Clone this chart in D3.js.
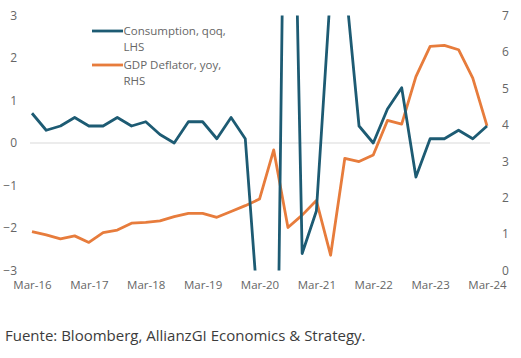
<!DOCTYPE html>
<html>
<head>
<meta charset="utf-8">
<script src="https://cdn.jsdelivr.net/npm/d3@7"></script>
<style>
  html, body { margin: 0; padding: 0; background: #ffffff; }
  svg { display: block; }
</style>
</head>
<body>
<script>
// ---------------- DATA ----------------
const quarters = [
  "Mar-16","Jun-16","Sep-16","Dec-16",
  "Mar-17","Jun-17","Sep-17","Dec-17",
  "Mar-18","Jun-18","Sep-18","Dec-18",
  "Mar-19","Jun-19","Sep-19","Dec-19",
  "Mar-20","Jun-20","Sep-20","Dec-20",
  "Mar-21","Jun-21","Sep-21","Dec-21",
  "Mar-22","Jun-22","Sep-22","Dec-22",
  "Mar-23","Jun-23","Sep-23","Dec-23",
  "Mar-24"
];
// Consumption, qoq (%), left axis
const consumption = [
  0.7, 0.3, 0.4, 0.6,
  0.4, 0.4, 0.6, 0.4,
  0.5, 0.2, 0.0, 0.5,
  0.5, 0.1, 0.6, 0.1,
  -4.4, -13.0, 14.0, -2.6,
  -1.6, 3.6, 3.9, 0.4,
  0.0, 0.8, 1.3, -0.8,
  0.1, 0.1, 0.3, 0.1,
  0.4
];
// GDP Deflator, yoy (%), right axis
const deflator = [
  1.07, 0.98, 0.87, 0.95,
  0.77, 1.04, 1.11, 1.30,
  1.32, 1.36, 1.48, 1.57,
  1.57, 1.46, 1.62, 1.78,
  1.96, 3.31, 1.18, 1.52,
  1.92, 0.42, 3.08, 2.99,
  3.17, 4.12, 4.02, 5.32,
  6.15, 6.18, 6.06, 5.28,
  3.97
];
const xTickLabels = ["Mar-16","Mar-17","Mar-18","Mar-19","Mar-20","Mar-21","Mar-22","Mar-23","Mar-24"];
const leftTicks = [-3, -2, -1, 0, 1, 2, 3];
const rightTicks = [0, 1, 2, 3, 4, 5, 6, 7];
const seriesNames = [["Consumption, qoq,", "LHS"], ["GDP Deflator, yoy,", "RHS"]];
const sourceText = "Fuente: Bloomberg, AllianzGI Economics & Strategy.";

// ---------------- LAYOUT ----------------
const W = 521, H = 358;
const plotTop = 15.5, plotBottom = 270.5;
const colBlue = "#1d5b73", colOrange = "#e77c3c";
const tickColor = "#666666";
const fontFam = "'Open Sans', 'DejaVu Sans', sans-serif";

const svg = d3.select("body").append("svg")
  .attr("width", W).attr("height", H)
  .attr("font-family", fontFam);

const x = d3.scalePoint().domain(quarters).range([32, 487]);
const yL = d3.scaleLinear().domain([-3, 3]).range([plotBottom, plotTop]);
const yR = d3.scaleLinear().domain([0, 7]).range([plotBottom, plotTop]);

// zero gridline
svg.append("line")
  .attr("x1", 30).attr("x2", 490)
  .attr("y1", yL(0)).attr("y2", yL(0))
  .attr("stroke", "#d9d9d9").attr("stroke-width", 1);

// left axis
const axL = svg.append("g").attr("transform", "translate(22,0)")
  .call(d3.axisLeft(yL).tickValues(leftTicks).tickSize(0).tickPadding(5).tickFormat(d3.format("d")));
axL.select(".domain").remove();
axL.selectAll("text").attr("fill", tickColor).attr("font-size", "12px").attr("font-family", fontFam);

// right axis
const axR = svg.append("g").attr("transform", "translate(497,0)")
  .call(d3.axisRight(yR).tickValues(rightTicks).tickSize(0).tickPadding(5).tickFormat(d3.format("d")));
axR.select(".domain").remove();
axR.selectAll("text").attr("fill", tickColor).attr("font-size", "12px").attr("font-family", fontFam);

// bottom axis
const axB = svg.append("g").attr("transform", `translate(0,${plotBottom})`)
  .call(d3.axisBottom(x).tickValues(xTickLabels).tickSize(0).tickPadding(10));
axB.select(".domain").remove();
axB.selectAll("text").attr("fill", tickColor).attr("font-size", "11.5px").attr("font-family", fontFam);

// clip for plot area
svg.append("clipPath").attr("id", "plotclip")
  .append("rect").attr("x", 0).attr("y", plotTop).attr("width", W).attr("height", plotBottom - plotTop);

const plot = svg.append("g").attr("clip-path", "url(#plotclip)");

const lineL = d3.line().x((d, i) => x(quarters[i])).y(d => yL(d));
const lineR = d3.line().x((d, i) => x(quarters[i])).y(d => yR(d));

plot.append("path").datum(deflator)
  .attr("d", lineR).attr("fill", "none")
  .attr("stroke", colOrange).attr("stroke-width", 2.8).attr("stroke-linejoin", "round");

plot.append("path").datum(consumption)
  .attr("d", lineL).attr("fill", "none")
  .attr("stroke", colBlue).attr("stroke-width", 2.8).attr("stroke-linejoin", "round");

// legend
const legend = svg.append("g");
const legColors = [colBlue, colOrange];
const legY = [31, 65];
seriesNames.forEach((lines, k) => {
  legend.append("line")
    .attr("x1", 92).attr("x2", 123)
    .attr("y1", legY[k]).attr("y2", legY[k])
    .attr("stroke", legColors[k]).attr("stroke-width", 2.8);
  lines.forEach((t, j) => {
    legend.append("text")
      .attr("x", 123.5).attr("y", legY[k] + 4 + j * 16)
      .attr("fill", tickColor).attr("font-size", "11.5px")
      .text(t);
  });
});

// source
svg.append("text")
  .attr("x", 5).attr("y", 341)
  .attr("fill", "#3c3c3c").attr("font-size", "15px")
  .text(sourceText);
</script>
</body>
</html>
